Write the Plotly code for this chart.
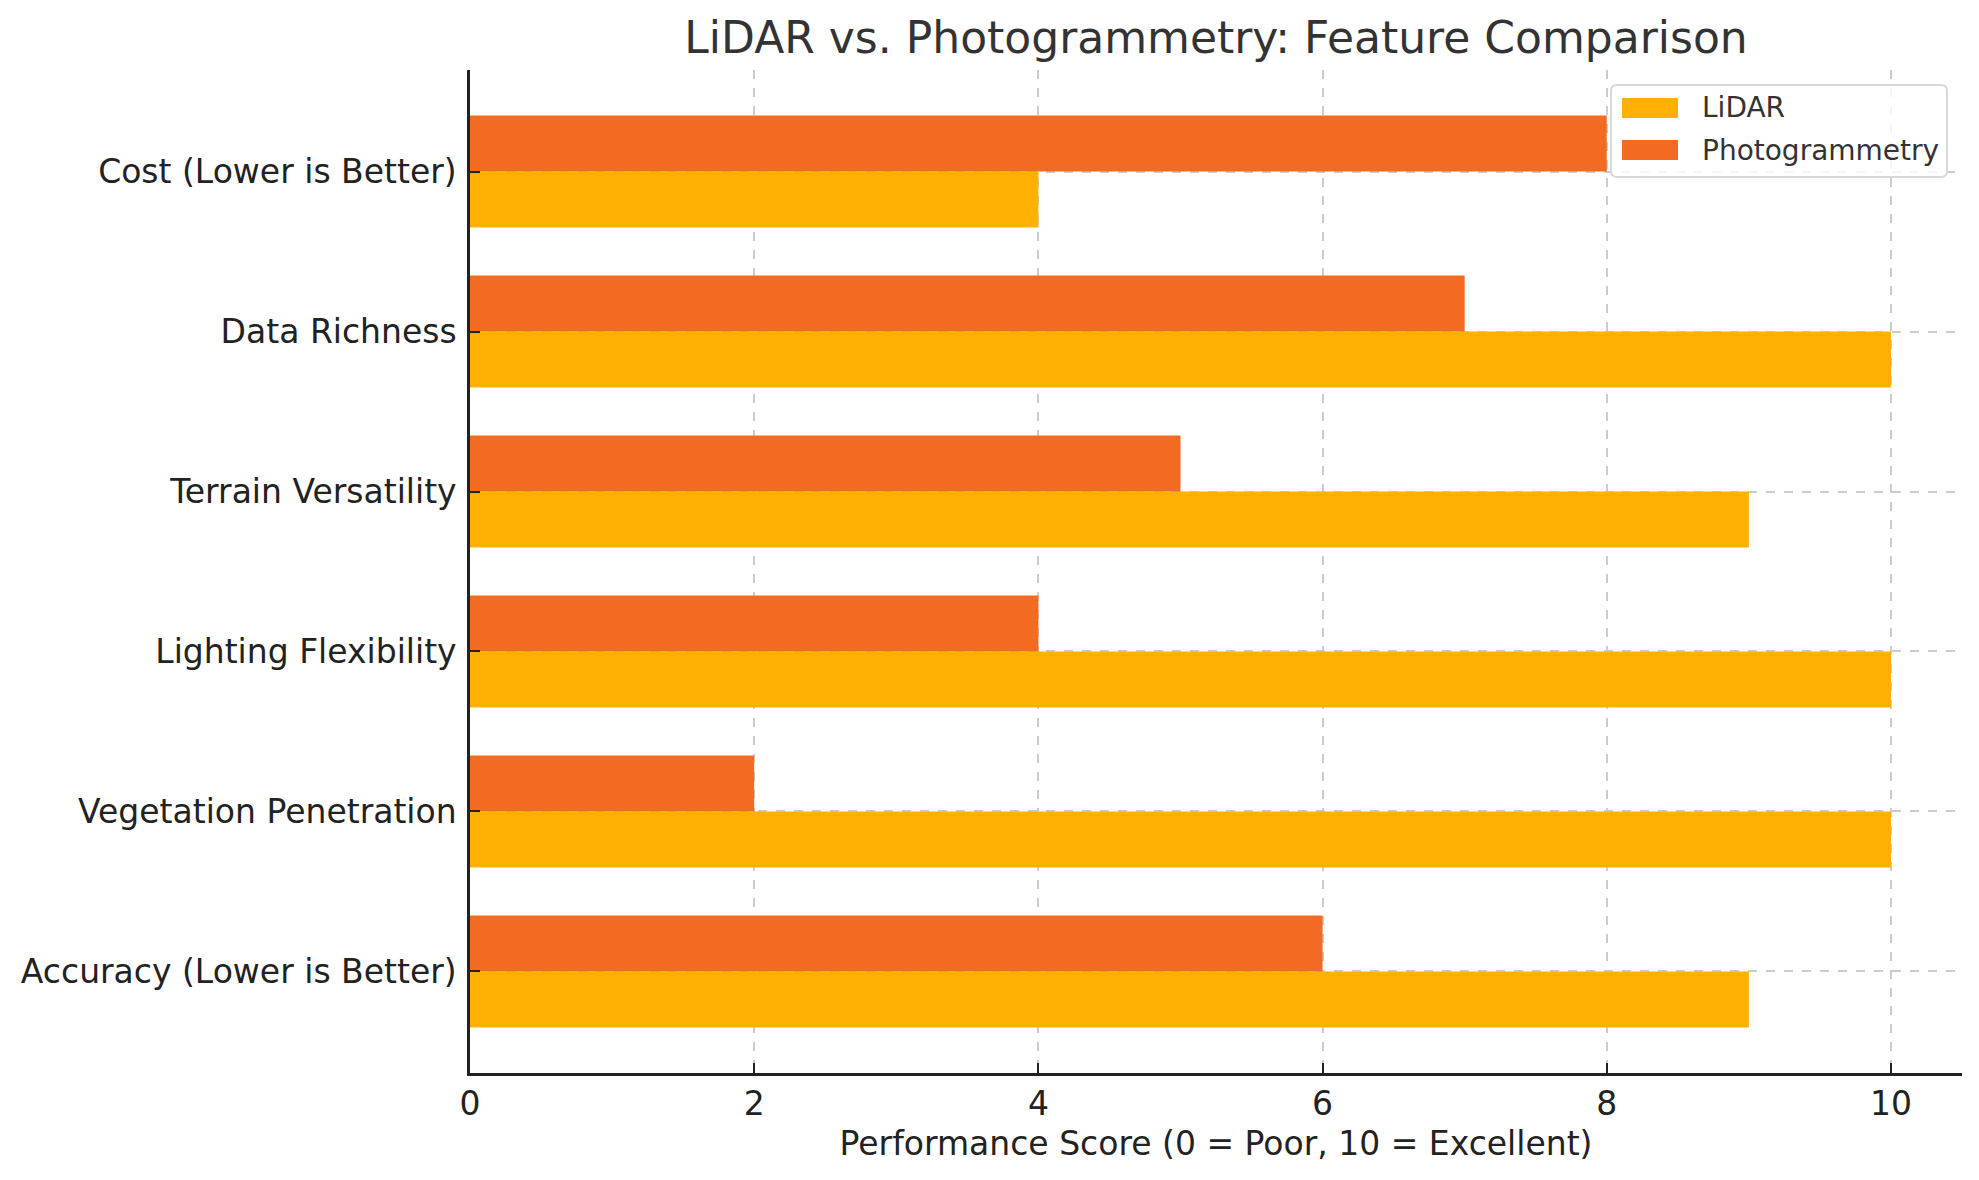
import plotly.graph_objects as go

# data, bottom to top as in the chart
features = ['Accuracy (Lower is Better)', 'Vegetation Penetration', 'Lighting Flexibility',
            'Terrain Versatility', 'Data Richness', 'Cost (Lower is Better)']
lidar = [9, 10, 10, 9, 10, 4]
photogrammetry = [6, 2, 4, 5, 7, 8]

series_names = ['LiDAR', 'Photogrammetry']
colors = ['#FFB000', '#F36A22']

font = 'DejaVu Sans'
W, H = 1979, 1180
L, R, T, B = 470, 17, 70, 107

data = [
    go.Bar(y=features, x=lidar, orientation='h', name=series_names[0],
           marker=dict(color=colors[0], line=dict(width=0))),
    go.Bar(y=features, x=photogrammetry, orientation='h', name=series_names[1],
           marker=dict(color=colors[1], line=dict(width=0))),
]


# pixel -> paper helpers for the hand drawn legend
def px(x):
    return (x - L) / (W - L - R)


def py(y):
    return (H - B - y) / (H - T - B)


def rounded_box(x0, y0, x1, y1, r):
    # rounded rectangle path in paper units, corners given in pixels
    a, b, c, d = px(x0), px(x0 + r), px(x1 - r), px(x1)
    e, f, g, h = py(y0), py(y0 + r), py(y1 - r), py(y1)
    return (f'M {b},{e} L {c},{e} Q {d},{e} {d},{f} L {d},{g} Q {d},{h} {c},{h} '
            f'L {b},{h} Q {a},{h} {a},{g} L {a},{f} Q {a},{e} {b},{e} Z')


shapes = [dict(type='path', xref='paper', yref='paper',
               path=rounded_box(1611, 85, 1947, 177, 6),
               line=dict(color='#d9d9d9', width=2), fillcolor='rgba(255,255,255,0.8)',
               layer='above')]
annotations = []
for i, (name, c) in enumerate(zip(series_names, colors)):
    yc = 108 + i * 42
    shapes.append(dict(type='rect', xref='paper', yref='paper',
                       x0=px(1622), x1=px(1678), y0=py(yc + 10), y1=py(yc - 10),
                       line=dict(width=0), fillcolor=c, layer='above'))
    annotations.append(dict(text=name, xref='paper', yref='paper', x=px(1700), y=py(yc),
                            xanchor='left', yanchor='middle', showarrow=False,
                            font=dict(family=font, size=28, color='#333333')))

layout = go.Layout(
    width=W, height=H,
    margin=dict(l=L, r=R, t=T, b=B),
    paper_bgcolor='white', plot_bgcolor='white',
    font=dict(family=font, size=33, color='#222222'),
    title=dict(text='LiDAR vs. Photogrammetry: Feature Comparison',
               font=dict(family=font, size=44, color='#333333'),
               x=0.5, xref='paper', xanchor='center',
               y=1 - 38 / H, yref='container', yanchor='middle'),
    barmode='group', bargap=0.3, bargroupgap=0,
    xaxis=dict(range=[0, 10.5], tickvals=[0, 2, 4, 6, 8, 10],
               showline=True, linecolor='#222222', linewidth=2.5, mirror=False,
               ticks='inside', ticklen=10, tickwidth=2, tickcolor='#222222',
               showgrid=True, gridcolor='#cccccc', griddash='dash', gridwidth=1.5,
               zeroline=False, layer='above traces',
               title=dict(text='Performance Score (0 = Poor, 10 = Excellent)',
                          font=dict(size=33, color='#222222'), standoff=10)),
    yaxis=dict(range=[-0.635, 5.635], categoryorder='array', categoryarray=features,
               showline=True, linecolor='#222222', linewidth=2.5,
               ticks='inside', ticklen=10, tickwidth=2, tickcolor='#222222',
               showgrid=True, gridcolor='#cccccc', griddash='dash', gridwidth=1.5,
               zeroline=False, layer='above traces', ticklabelstandoff=4),
    showlegend=False,
    shapes=shapes,
    annotations=annotations,
)

fig = go.Figure(data=data, layout=layout)
# drop the default body margin so the figure sits at the page corner
fig.write_html('out.html', config={'displayModeBar': False},
               post_script="document.body.style.margin='0';")
